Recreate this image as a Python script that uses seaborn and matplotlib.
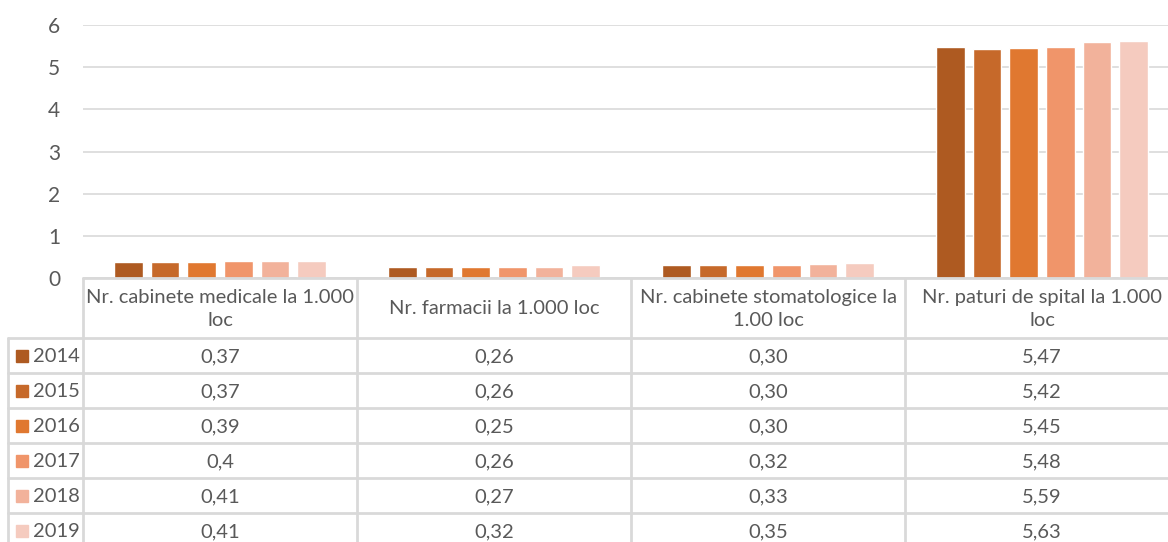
import matplotlib
matplotlib.use("Agg")
import matplotlib.pyplot as plt
import pandas as pd
import seaborn as sns

# data, as printed in the data table under the chart
categories = ["Nr. cabinete medicale la 1.000 loc",
              "Nr. farmacii la 1.000 loc",
              "Nr. cabinete stomatologice la 1.00 loc",
              "Nr. paturi de spital la 1.000 loc"]
header_labels = ["Nr. cabinete medicale la 1.000\nloc",
                 "Nr. farmacii la 1.000 loc",
                 "Nr. cabinete stomatologice la\n1.00 loc",
                 "Nr. paturi de spital la 1.000\nloc"]
years = ["2014", "2015", "2016", "2017", "2018", "2019"]
v2014 = ["0,37", "0,26", "0,30", "5,47"]
v2015 = ["0,37", "0,26", "0,30", "5,42"]
v2016 = ["0,39", "0,25", "0,30", "5,45"]
v2017 = ["0,4", "0,26", "0,32", "5,48"]
v2018 = ["0,41", "0,27", "0,33", "5,59"]
v2019 = ["0,41", "0,32", "0,35", "5,63"]
table_rows = [v2014, v2015, v2016, v2017, v2018, v2019]

colors = ["#AE5A21", "#C6692A", "#E07830", "#F0956A", "#F2B29B", "#F5CBBF"]
text_col = "#595959"
line_col = "#D9D9D9"
fs = 14.5

rows = []
for year, vals in zip(years, table_rows):
    for cat, v in zip(categories, vals):
        rows.append({"cat": cat, "year": year, "val": float(v.replace(",", "."))})
df = pd.DataFrame(rows)

sns.set_theme(style="white")
plt.rcParams["font.family"] = ["Lato", "DejaVu Sans"]

W, H = 1168, 542
fig = plt.figure(figsize=(W / 100, H / 100), dpi=100)

# plot area in pixels (the right column runs past the image edge, as in the original)
x0, x1 = 83, 1179
y_top, y_zero = 25, 278
ax = fig.add_axes([x0 / W, 1 - y_zero / H, (x1 - x0) / W, (y_zero - y_top) / H])

sns.barplot(data=df, x="cat", y="val", hue="year", palette=colors,
            order=categories, hue_order=years, width=0.8, gap=0.22,
            saturation=1, legend=False, ax=ax)
ax.set_ylim(0, 6)
ax.set_xlim(-0.5, len(categories) - 0.5)
ax.set_yticks(range(7))
ax.set_xticks([])
ax.set_xlabel("")
ax.set_ylabel("")
ax.yaxis.grid(True, color=line_col, linewidth=1.2)
ax.set_axisbelow(True)
for s in ax.spines.values():
    s.set_visible(False)
ax.tick_params(axis="y", length=0, pad=16.5, labelsize=15, labelcolor=text_col)

# data table drawn on an overlay in pixel units
tab = fig.add_axes([0, 0, 1, 1], facecolor="none")
tab.set_xlim(0, W)
tab.set_ylim(H, 0)
tab.axis("off")

col_w = (x1 - x0) / len(categories)
head_top, head_bot, row_h = 278, 338, 35
lw = 2
tab.plot([x0, x1], [head_top, head_top], color=line_col, lw=lw)
for i in range(len(years) + 1):
    y = head_bot + i * row_h
    tab.plot([8, x1], [y, y], color=line_col, lw=lw)
tab.plot([8, 8], [head_bot, H + 20], color=line_col, lw=lw)
for j in range(len(categories) + 1):
    x = x0 + j * col_w
    tab.plot([x, x], [head_top, H + 20], color=line_col, lw=lw)

for j, lab in enumerate(header_labels):
    tab.text(x0 + (j + 0.5) * col_w, (head_top + head_bot) / 2 + 1, lab,
             ha="center", va="center", fontsize=fs, color=text_col,
             linespacing=1.45)

for i, (year, vals) in enumerate(zip(years, table_rows)):
    yc = head_bot + (i + 0.5) * row_h
    tab.add_patch(plt.Rectangle((16, yc - 6), 12, 12, color=colors[i]))
    tab.text(33, yc + 1, year, ha="left", va="center", fontsize=fs, color=text_col)
    for j, v in enumerate(vals):
        tab.text(x0 + (j + 0.5) * col_w, yc + 1, v, ha="center", va="center",
                 fontsize=fs, color=text_col)

fig.savefig("out.png", dpi=100)
